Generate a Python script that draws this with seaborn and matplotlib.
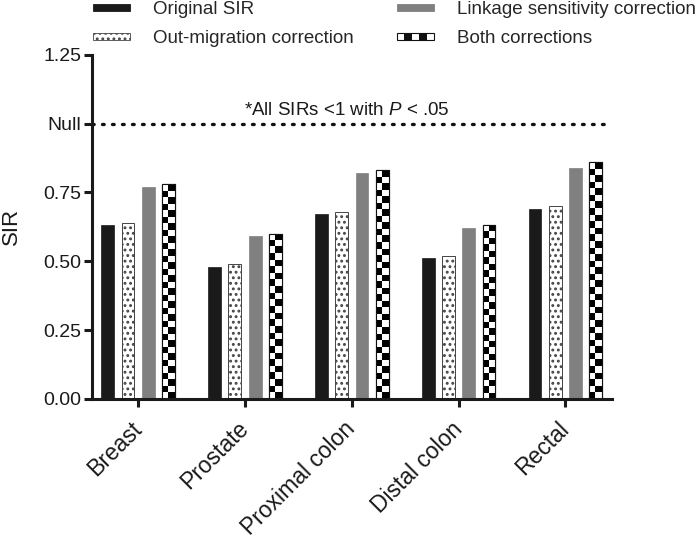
import numpy as np
import pandas as pd
import seaborn as sns
import matplotlib.pyplot as plt
from matplotlib.patches import Patch, Rectangle
from matplotlib.legend_handler import HandlerBase

sns.set_style("ticks")
plt.rcParams['font.family'] = ['Liberation Sans', 'DejaVu Sans']
plt.rcParams['mathtext.fontset'] = 'custom'
plt.rcParams['mathtext.it'] = 'Liberation Sans:italic'
plt.rcParams['mathtext.rm'] = 'Liberation Sans'
plt.rcParams['hatch.linewidth'] = 1.3

# data
sites = ['Breast', 'Prostate', 'Proximal colon', 'Distal colon', 'Rectal']
series = ['Original SIR', 'Out-migration correction',
          'Linkage sensitivity correction', 'Both corrections']
original_sir = [0.63, 0.48, 0.67, 0.51, 0.69]
out_migration = [0.64, 0.49, 0.68, 0.52, 0.70]
linkage = [0.77, 0.59, 0.82, 0.62, 0.84]
both = [0.78, 0.60, 0.83, 0.63, 0.86]
yticks = [0, 0.25, 0.5, 0.75, 1.0, 1.25]
ytick_labels = ['0.00', '0.25', '0.50', '0.75', 'Null', '1.25']

df = pd.DataFrame({
    'site': sites * 4,
    'series': np.repeat(series, len(sites)),
    'SIR': original_sir + out_migration + linkage + both,
})

fig = plt.figure(figsize=(6.99, 5.42), dpi=100)
ax = fig.add_axes([0.132, 0.264, 0.744, 0.635])

palette = ['#1a1a1a', 'white', '#808080', 'white']
sns.barplot(data=df, x='site', y='SIR', hue='series', order=sites,
            hue_order=series, palette=palette, width=0.76, gap=0.37,
            saturation=1, legend=False, ax=ax)

# styles per series
for bar in ax.containers[0]:
    bar.set_edgecolor('#1a1a1a')
    bar.set_linewidth(0.5)
for bar in ax.containers[1]:
    bar.set_edgecolor('#444444')
    bar.set_hatch('...')
    bar.set_linewidth(0.7)
for bar in ax.containers[2]:
    bar.set_edgecolor('#808080')
    bar.set_linewidth(0.5)

# checkerboard fill for "Both corrections"
cell_h = 0.0236
for bar in ax.containers[3]:
    bar.set_edgecolor('#111111')
    bar.set_linewidth(0.8)
    x0, w, h = bar.get_x(), bar.get_width(), bar.get_height()
    nrows = int(round(h / cell_h))
    grid = (np.add.outer(np.arange(nrows), np.arange(2)) % 2).astype(float)
    im = ax.imshow(grid, cmap='gray_r', extent=[x0, x0 + w, 0, h],
                   aspect='auto', interpolation='nearest', zorder=bar.get_zorder() + 0.1)
    im.set_clip_path(bar)
    edge = Rectangle((x0, 0), w, h, fill=False, edgecolor='#111111', lw=0.8,
                     zorder=bar.get_zorder() + 0.2)
    ax.add_patch(edge)

ax.axhline(1.0, ls=(0, (0.5, 2.5)), lw=2.4, color='#111111', dash_capstyle='round')
ax.text(1.95, 1.018, r'*All SIRs <1 with $\it{P}$ < .05', ha='center', va='bottom',
        fontsize=13.5, color='#1a1a1a')

ax.set_xlim(-0.43, 4.44)
ax.set_ylim(0, 1.25)
ax.set_yticks(yticks)
ax.set_yticklabels(ytick_labels, fontsize=14, color='#1a1a1a')
ax.set_xticks(range(len(sites)))
ax.set_xticklabels(sites, rotation=45, ha='right', va='center', rotation_mode='anchor',
                   fontsize=16.5, color='#1a1a1a')
ax.set_xlabel('')
ax.set_ylabel('SIR', fontsize=16, color='#1a1a1a', labelpad=15)
for s in ['left', 'bottom']:
    ax.spines[s].set_linewidth(2.2)
    ax.spines[s].set_color('#1a1a1a')
sns.despine(ax=ax)
ax.tick_params(axis='both', width=2.2, length=6, color='#1a1a1a')
ax.tick_params(axis='y', pad=2)
ax.tick_params(axis='x', pad=13)


class CheckerHandler(HandlerBase):
    def create_artists(self, legend, orig_handle, xdescent, ydescent,
                       width, height, fontsize, trans):
        arts = []
        n = 5
        cw = width / n
        for i in range(n):
            fc = 'white' if i % 2 == 0 else '#111111'
            r = Rectangle((-xdescent + i * cw, -ydescent + height * 0.22), cw, height * 0.56,
                          facecolor=fc, edgecolor='none', transform=trans)
            arts.append(r)
        arts.append(Rectangle((-xdescent, -ydescent + height * 0.22), width, height * 0.56,
                              fill=False, edgecolor='#111111', lw=0.8, transform=trans))
        return arts


class FlatHandler(HandlerBase):
    def create_artists(self, legend, orig_handle, xdescent, ydescent,
                       width, height, fontsize, trans):
        r = Rectangle((-xdescent, -ydescent + height * 0.22), width, height * 0.56,
                      facecolor=orig_handle.get_facecolor(),
                      edgecolor=orig_handle.get_edgecolor(),
                      hatch=orig_handle.get_hatch(), lw=0.6, transform=trans)
        return [r]


handles = [
    Patch(facecolor='#1a1a1a', edgecolor='#1a1a1a'),
    Patch(facecolor='white', edgecolor='#444444', hatch='...'),
    Patch(facecolor='#808080', edgecolor='#808080'),
    Patch(facecolor='white', edgecolor='#111111'),
]
hmap = {handles[0]: FlatHandler(), handles[1]: FlatHandler(),
        handles[2]: FlatHandler(), handles[3]: CheckerHandler()}
fig.legend(handles, series, handler_map=hmap, ncol=2, loc='upper left',
           bbox_to_anchor=(0.133, 0.998), frameon=False, fontsize=13.5,
           handlelength=2.0, handletextpad=1.2, columnspacing=2.3,
           labelspacing=0.62, borderpad=0, borderaxespad=0)

fig.savefig('out.png', dpi=100)
